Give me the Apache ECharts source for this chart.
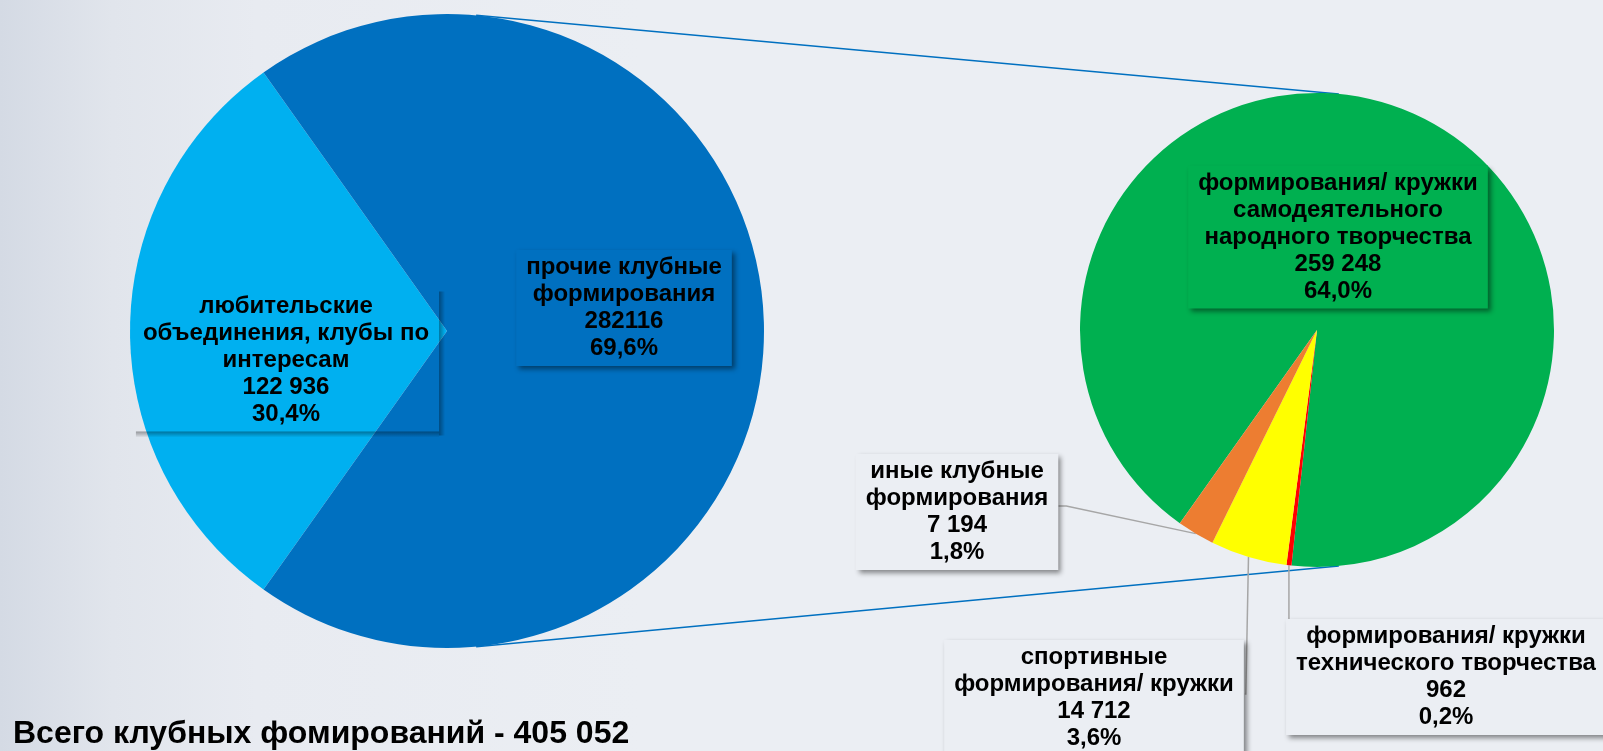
<!DOCTYPE html>
<html><head><meta charset="utf-8">
<script src="https://cdn.jsdelivr.net/npm/echarts@6/dist/echarts.min.js"></script>
<style>
html,body{margin:0;padding:0;overflow:hidden;}
#chart{width:1603px;height:751px;background:linear-gradient(to right,#D4DAE4 0%,#E1E5EC 7%,#E8EBF1 16%,#EBEEF3 40%,#EBEEF3 100%);}
</style></head><body><div id="chart"></div>
<script>
// ---- data ----
const totalLabel = 'Всего клубных фомирований - 405 052';
const mainNames = ['любительские\nобъединения, клубы по\nинтересам', 'прочие клубные\nформирования'];
const mainValues = [122936, 282116];
const mainValueTexts = ['122 936', '282116'];
const mainPercents = ['30,4%', '69,6%'];
const subNames = ['формирования/ кружки\nсамодеятельного\nнародного творчества', 'формирования/ кружки\nтехнического творчества', 'спортивные\nформирования/ кружки', 'иные клубные\nформирования'];
const subValues = [259248, 962, 14712, 7194];
const subValueTexts = ['259 248', '962', '14 712', '7 194'];
const subPercents = ['64,0%', '0,2%', '3,6%', '1,8%'];

// ---- layout / style ----
const mainColors = ['#00B0F0', '#0070C0'];
const subColors = ['#00B050', '#FF0000', '#FFFF00', '#ED7D31'];
const C1 = [447, 331], R1 = 317;
const C2 = [1317, 330], R2 = 237;
const mainLabelPos = [[286, 360], [624, 308]];
const subLabelPos = [[1338, 237], [1446, 677], [1094, 698], [957, 512]];
const FONT = '"Liberation Sans", Arial, sans-serif';
const FS = 24, LH = 27, PAD = [4, 10];

const sum = a => a.reduce((s, v) => s + v, 0);
const mainTotal = sum(mainValues);
const startAngle = 180 + mainValues[0] / mainTotal * 360 / 2;

function midAngle(values, i) {
  const tot = sum(values);
  let before = 0;
  for (let k = 0; k < i; k++) before += values[k];
  return startAngle - (before + values[i] / 2) / tot * 360;
}
function arcPoint(c, r, deg) {
  const a = deg * Math.PI / 180;
  return [c[0] + r * Math.cos(a), c[1] - r * Math.sin(a)];
}
const mainText = i => mainNames[i] + '\n' + mainValueTexts[i] + '\n' + mainPercents[i];
const subText = i => subNames[i] + '\n' + subValueTexts[i] + '\n' + subPercents[i];

// measure a multi-line label box (for the transparent box shadow)
function boxSize(text) {
  const ctx = document.createElement('canvas').getContext('2d');
  ctx.font = 'bold ' + FS + 'px ' + FONT;
  const lines = text.split('\n');
  const w = Math.max.apply(null, lines.map(l => ctx.measureText(l).width));
  return [w + 2 * PAD[1], lines.length * LH + 2 * PAD[0]];
}

const shadow = { shadowColor: 'rgba(0,0,0,0.45)', shadowBlur: 5, shadowOffsetX: 3, shadowOffsetY: 3 };
const baseLabel = {
  color: '#000', fontWeight: 'bold', fontFamily: FONT, fontSize: FS, lineHeight: LH,
  align: 'center', padding: PAD
};

const mainData = mainValues.map((v, i) => ({
  name: mainNames[i], value: v,
  itemStyle: { color: mainColors[i] },
  label: Object.assign({}, baseLabel, { position: 'inside' },
    i === 0 ? { backgroundColor: 'transparent' } : Object.assign({ backgroundColor: mainColors[i] }, shadow))
}));
const subData = subValues.map((v, i) => ({
  name: subNames[i], value: v,
  itemStyle: { color: subColors[i] },
  label: Object.assign({}, baseLabel, shadow, {
    position: i === 0 ? 'inside' : 'outside',
    backgroundColor: i === 0 ? subColors[0] : '#EBEEF3'
  }),
  labelLine: { show: i !== 0, lineStyle: { color: '#A6A6A6', width: 1.5 } }
}));

// external tangent lines between the two pies
const d = Math.hypot(C2[0] - C1[0], C2[1] - C1[1]);
const th = Math.acos((R1 - R2) / d);
const tangents = [1, -1].map(s => {
  const p1 = [C1[0] + R1 * Math.cos(th), C1[1] - s * R1 * Math.sin(th)];
  const p2 = [C2[0] + R2 * Math.cos(th), C2[1] - s * R2 * Math.sin(th)];
  return { type: 'line', z: 1, silent: true,
    shape: { x1: p1[0], y1: p1[1], x2: p2[0], y2: p2[1] },
    style: { stroke: '#0070C0', lineWidth: 1.5 } };
});

// soft shadow along right/bottom of the transparent label box (left pie, first slice)
const bs = boxSize(mainText(0));
const bx = mainLabelPos[0][0] - bs[0] / 2, by = mainLabelPos[0][1] - bs[1] / 2;
const SW = 6;
const boxShadow = [
  { type: 'rect', z: 5, silent: true,
    shape: { x: bx + bs[0], y: by + 3, width: SW, height: bs[1] + 1 },
    style: { fill: { type: 'linear', x: 0, y: 0, x2: 1, y2: 0,
      colorStops: [{ offset: 0, color: 'rgba(0,0,0,0.35)' }, { offset: 1, color: 'rgba(0,0,0,0)' }] } } },
  { type: 'rect', z: 5, silent: true,
    shape: { x: bx + 3, y: by + bs[1], width: bs[0] - 3, height: SW },
    style: { fill: { type: 'linear', x: 0, y: 0, x2: 0, y2: 1,
      colorStops: [{ offset: 0, color: 'rgba(0,0,0,0.35)' }, { offset: 1, color: 'rgba(0,0,0,0)' }] } } }
];

const chart = echarts.init(document.getElementById('chart'), null, { renderer: 'canvas' });
chart.setOption({
  animation: false,
  backgroundColor: 'transparent',
  graphic: tangents.concat(boxShadow, [{
    type: 'text', left: 13, top: 718, z: 10,
    style: { text: totalLabel, fill: '#000', font: 'bold 32px "Liberation Sans", Arial, sans-serif' }
  }]),
  series: [
    {
      type: 'pie', silent: true, center: C1, radius: R1, startAngle: startAngle,
      clockwise: true, avoidLabelOverlap: false,
      data: mainData,
      label: { formatter: p => mainText(p.dataIndex) },
      labelLine: { show: false },
      labelLayout: p => ({ x: mainLabelPos[p.dataIndex][0], y: mainLabelPos[p.dataIndex][1], align: 'center', verticalAlign: 'middle' })
    },
    {
      type: 'pie', silent: true, center: C2, radius: R2, startAngle: startAngle,
      clockwise: true, avoidLabelOverlap: false,
      data: subData,
      label: { formatter: p => subText(p.dataIndex) },
      labelLayout: p => {
        const i = p.dataIndex;
        const pos = subLabelPos[i];
        const w = p.labelRect.width, h = p.labelRect.height;
        const out = { x: pos[0], y: pos[1], align: 'center', verticalAlign: 'middle' };
        if (i > 0) {
          const a = arcPoint(C2, R2, midAngle(subValues, i));
          const left = pos[0] - w / 2, right = pos[0] + w / 2, top = pos[1] - h / 2;
          if (i === 1) out.labelLinePoints = [a, [a[0], top + 28], [left + 14, top + 28]];
          if (i === 2) out.labelLinePoints = [a, [right + 2, top + 54], [right + 1, top + 54]];
          if (i === 3) out.labelLinePoints = [a, [right + 8, top + 52], [right, top + 52]];
        }
        return out;
      }
    }
  ]
});
</script></body></html>
